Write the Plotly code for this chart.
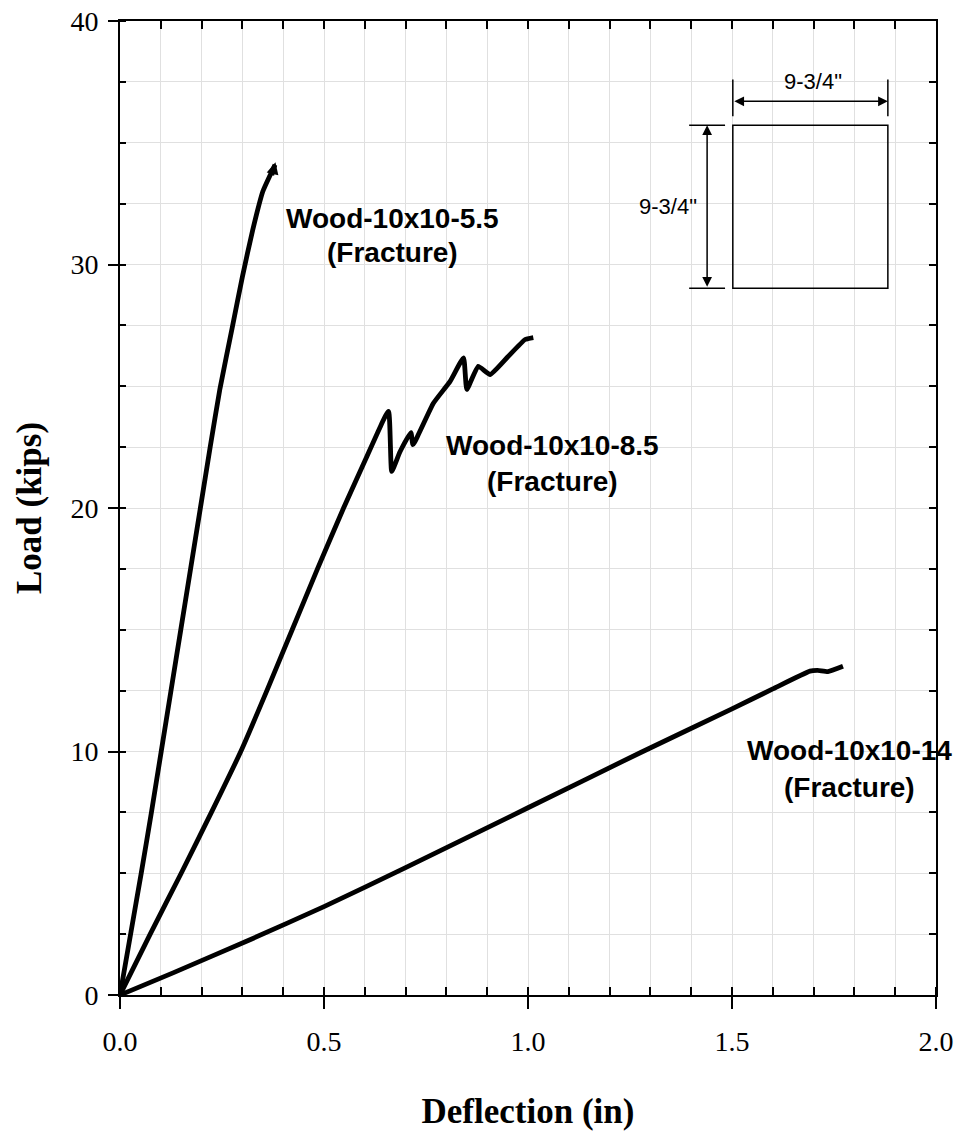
import plotly.graph_objects as go

# ---- data (deflection in inches, load in kips) ----
defl_55 = [0, 0.026, 0.052, 0.077, 0.101, 0.125, 0.149, 0.173, 0.197, 0.221, 0.245, 0.275, 0.300, 0.325, 0.350, 0.380]
load_55 = [0, 2.5, 5.0, 7.5, 10.0, 12.5, 15.0, 17.5, 20.0, 22.5, 24.9, 27.4, 29.5, 31.4, 33.0, 34.1]

defl_85 = [0, 0.074, 0.150, 0.224, 0.296, 0.360, 0.422, 0.484, 0.548, 0.602, 0.658, 0.666, 0.686, 0.713, 0.718,
           0.768, 0.809, 0.842, 0.850, 0.878, 0.907, 0.950, 0.993, 1.013]
load_85 = [0, 2.5, 5.0, 7.5, 10.0, 12.5, 15.0, 17.5, 20.0, 22.0, 23.97, 21.5, 22.3, 23.1, 22.6,
           24.3, 25.2, 26.17, 24.87, 25.82, 25.48, 26.2, 26.92, 27.0]

defl_14 = [0, 0.130, 0.320, 0.500, 0.700, 1.000, 1.275, 1.500, 1.600, 1.691, 1.710, 1.735, 1.772]
load_14 = [0, 0.91, 2.28, 3.63, 5.23, 7.69, 9.95, 11.75, 12.57, 13.30, 13.33, 13.28, 13.50]

x_ticks = [0.0, 0.5, 1.0, 1.5, 2.0]
y_ticks = [0, 10, 20, 30, 40]

fig = go.Figure()
for xs, ys in [(defl_55, load_55), (defl_85, load_85), (defl_14, load_14)]:
    fig.add_trace(go.Scatter(x=xs, y=ys, mode="lines",
                             line=dict(color="black", width=4.8, shape="spline", smoothing=0.4),
                             showlegend=False, hoverinfo="skip"))
# dummy trace for mirror axes
fig.add_trace(go.Scatter(x=[None], y=[None], xaxis="x2", yaxis="y2", showlegend=False))

grid_c = "#e0e0e0"
serif = "Liberation Serif"
sans = "Liberation Sans"

fig.update_layout(
    width=958, height=1131,
    margin=dict(l=120, r=22, t=21, b=136),
    plot_bgcolor="white", paper_bgcolor="white",
    xaxis=dict(range=[0, 2], tickvals=x_ticks, ticktext=[f"{v:.1f}" for v in x_ticks],
               automargin=False,
               ticks="outside", ticklen=12, tickwidth=1.5, tickcolor="black", ticklabelstandoff=8,
               showline=True, linewidth=2, linecolor="black", zeroline=False,
               showgrid=True, gridcolor=grid_c, gridwidth=1,
               minor=dict(dtick=0.1, ticks="inside", ticklen=8, tickwidth=1.5, tickcolor="black",
                          showgrid=True, gridcolor=grid_c, gridwidth=1),
               tickfont=dict(family=serif, size=28, color="black"),
               title=dict(text="<b>Deflection (in)</b>", font=dict(family=serif, size=35, color="black"),
                          standoff=44)),
    yaxis=dict(range=[0, 40], tickvals=y_ticks, automargin=False,
               ticks="outside", ticklen=10, tickwidth=1.5, tickcolor="black", ticklabelstandoff=4,
               showline=True, linewidth=2, linecolor="black", zeroline=False,
               showgrid=True, gridcolor=grid_c, gridwidth=1,
               minor=dict(dtick=2.5, ticks="inside", ticklen=6, tickwidth=1.5, tickcolor="black",
                          showgrid=True, gridcolor=grid_c, gridwidth=1),
               tickfont=dict(family=serif, size=28, color="black"),
               title=dict(text="<b>Load (kips)</b>", font=dict(family=serif, size=35, color="black"),
                          standoff=18)),
    xaxis2=dict(overlaying="x", side="top", range=[0, 2], dtick=0.1, ticks="inside", ticklen=8,
                automargin=False,
                tickwidth=1.5, tickcolor="black", showticklabels=False, showgrid=False,
                showline=True, linewidth=2, linecolor="black", zeroline=False),
    yaxis2=dict(overlaying="y", side="right", range=[0, 40], dtick=2.5, ticks="inside", ticklen=7,
                automargin=False,
                tickwidth=1.5, tickcolor="black", showticklabels=False, showgrid=False,
                showline=True, linewidth=2, linecolor="black", zeroline=False),
)

labels = [
    ("Wood-10x10-5.5", 0.667, 31.9), ("(Fracture)", 0.667, 30.5),
    ("Wood-10x10-8.5", 1.061, 22.56), ("(Fracture)", 1.061, 21.08),
    ("Wood-10x10-14", 1.789, 10.03), ("(Fracture)", 1.787, 8.51),
]
for txt, x, y in labels:
    fig.add_annotation(x=x, y=y, text=f"<b>{txt}</b>", showarrow=False,
                       font=dict(family=sans, size=28, color="black"), xanchor="center", yanchor="middle")

# tip of 5.5 curve
fig.add_annotation(x=0.381, y=34.2, ax=0.372, ay=33.6, axref="x", ayref="y", xref="x", yref="y",
                   text="", showarrow=True, arrowhead=2, arrowsize=0.6, arrowwidth=4, arrowcolor="black")

# ---- inset cross-section ----
bx0, bx1, by0, by1 = 1.502, 1.882, 29.02, 35.72
fig.add_shape(type="rect", x0=bx0, x1=bx1, y0=by0, y1=by1, line=dict(color="black", width=1.5))
# horizontal dimension
for xx in (bx0, bx1):
    fig.add_shape(type="line", x0=xx, x1=xx, y0=36.09, y1=37.6, line=dict(color="black", width=1.5))
fig.add_annotation(x=bx1, y=36.7, ax=bx0, ay=36.7, axref="x", ayref="y", text="", showarrow=True,
                   arrowside="end+start", arrowhead=2, arrowsize=1.3, arrowwidth=1.5, arrowcolor="black")
fig.add_annotation(x=1.699, y=37.5, text='9-3/4"', showarrow=False,
                   font=dict(family=sans, size=22, color="black"))
# vertical dimension
for yy in (by0, by1):
    fig.add_shape(type="line", x0=1.395, x1=1.483, y0=yy, y1=yy, line=dict(color="black", width=1.5))
fig.add_annotation(x=1.439, y=by1, ax=1.439, ay=by0, axref="x", ayref="y", text="", showarrow=True,
                   arrowside="end+start", arrowhead=2, arrowsize=1.3, arrowwidth=1.5, arrowcolor="black")
fig.add_annotation(x=1.343, y=32.4, text='9-3/4"', showarrow=False,
                   font=dict(family=sans, size=22, color="black"))

fig.write_html("out.html")
